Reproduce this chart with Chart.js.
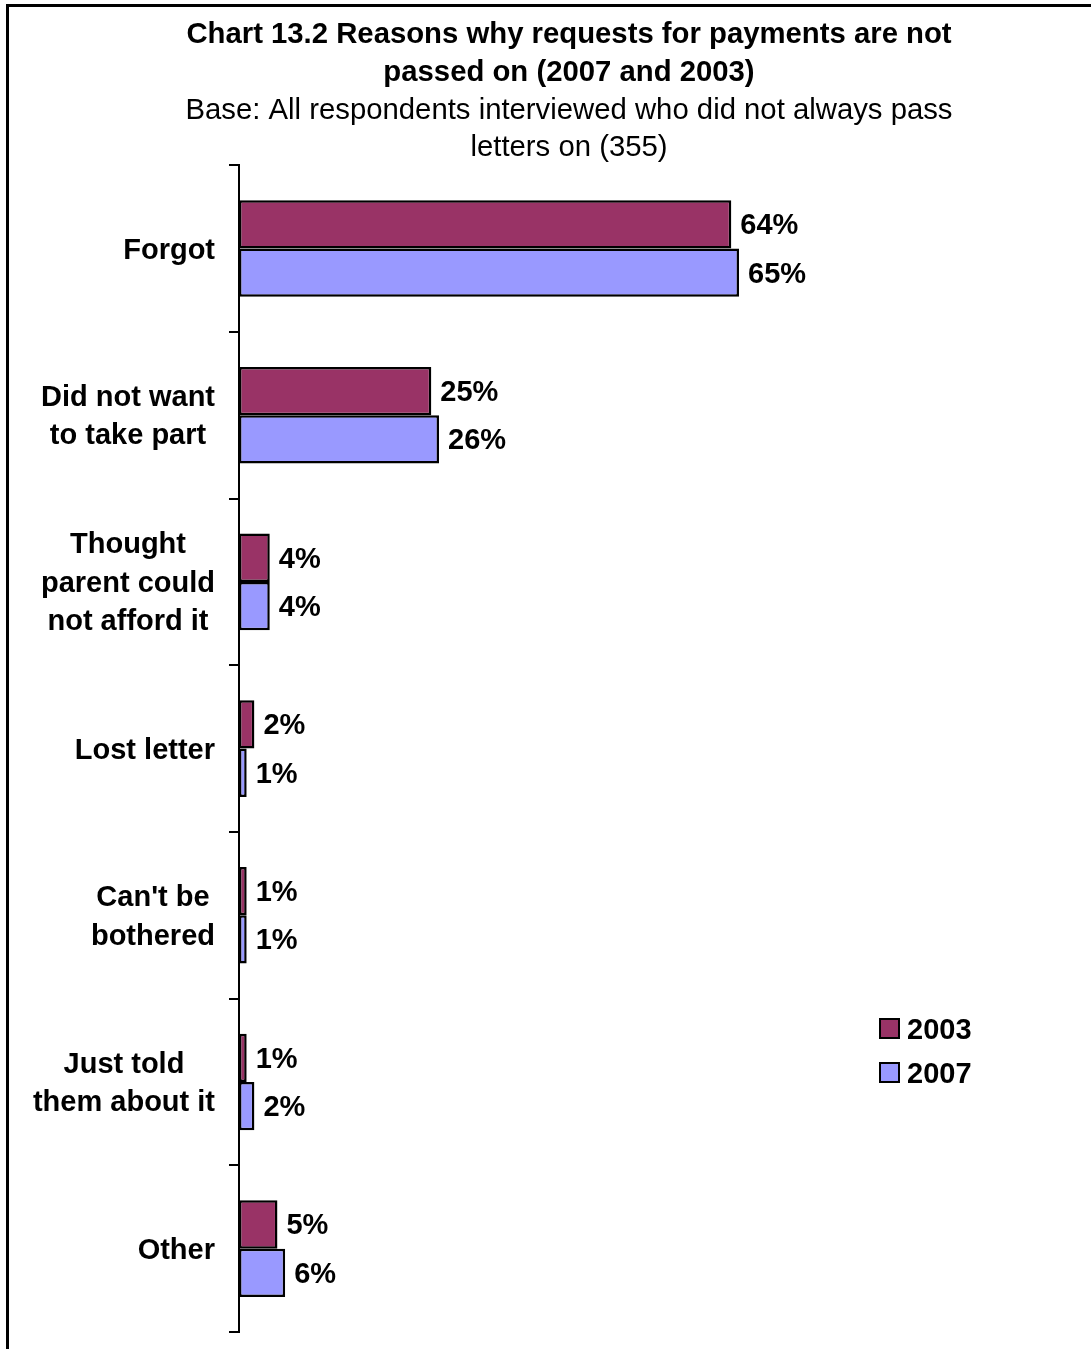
<!DOCTYPE html>
<html>
<head>
<meta charset="utf-8">
<script src="https://cdn.jsdelivr.net/npm/chart.js@4.4.0/dist/chart.umd.min.js"></script>
<style>
  html, body { margin: 0; padding: 0; background: #fff; overflow: hidden; }
  #frame {
    position: absolute; left: 6px; top: 4px;
    width: 1120px; height: 1360px;
    border: 3px solid #000; background: #fff;
  }
  canvas { display: block; }
</style>
</head>
<body>
<div id="frame"><canvas id="chart" width="1120" height="1360"></canvas></div>
<script>
// Chart data
const categories = [
  ['Forgot'],
  ['Did not want', 'to take part'],
  ['Thought', 'parent could', 'not afford it'],
  ['Lost letter'],
  ["Can't be", 'bothered'],
  ['Just told', 'them about it'],
  ['Other']
];
const values2003 = [64, 25, 4, 2, 1, 1, 5];
const values2007 = [65, 26, 4, 1, 1, 2, 6];
const seriesNames = ['2003', '2007'];
const seriesColors = ['#993366', '#9999FF'];

const FONT = '"Liberation Sans", Arial, sans-serif';

// Category labels: block right-aligned, lines centred within the block
const categoryLabels = {
  id: 'categoryLabels',
  afterDraw(chart) {
    const ctx = chart.ctx;
    const yScale = chart.scales.y;
    const rightEdge = 206;
    const lineH = 38.5;
    ctx.save();
    ctx.font = 'bold 29px ' + FONT;
    ctx.fillStyle = '#000';
    ctx.textAlign = 'center';
    ctx.textBaseline = 'middle';
    chart.data.labels.forEach((lines, i) => {
      const y = yScale.getPixelForValue(i) + 2;
      const maxW = Math.max(...lines.map(l => ctx.measureText(l).width));
      const cx = rightEdge - maxW / 2;
      lines.forEach((line, j) => {
        ctx.fillText(line, cx, y + (j - (lines.length - 1) / 2) * lineH);
      });
    });
    ctx.restore();
  }
};

// Percent labels at the end of each bar
const valueLabels = {
  id: 'valueLabels',
  afterDatasetsDraw(chart) {
    const ctx = chart.ctx;
    ctx.save();
    ctx.font = 'bold 29px ' + FONT;
    ctx.fillStyle = '#000';
    ctx.textAlign = 'left';
    ctx.textBaseline = 'middle';
    chart.data.datasets.forEach((ds, di) => {
      chart.getDatasetMeta(di).data.forEach((bar, i) => {
        ctx.fillText(ds.data[i] + '%', bar.x + 9, bar.y + 2);
      });
    });
    ctx.restore();
  }
};

// Legend placed inside the plot, lower right
const sideLegend = {
  id: 'sideLegend',
  afterDraw(chart) {
    const ctx = chart.ctx;
    const x = 871, y0 = 1012, step = 44, box = 19;
    ctx.save();
    ctx.font = 'bold 29px ' + FONT;
    ctx.textAlign = 'left';
    ctx.textBaseline = 'middle';
    chart.data.datasets.forEach((ds, i) => {
      const y = y0 + i * step;
      ctx.fillStyle = ds.backgroundColor;
      ctx.fillRect(x, y, box, box);
      ctx.lineWidth = 2;
      ctx.strokeStyle = '#000';
      ctx.strokeRect(x, y, box, box);
      ctx.fillStyle = '#000';
      ctx.fillText(ds.label, x + 27, y + box / 2 + 2);
    });
    ctx.restore();
  }
};

new Chart(document.getElementById('chart'), {
  type: 'bar',
  data: {
    labels: categories,
    datasets: [
      {
        label: seriesNames[0],
        data: values2003,
        backgroundColor: seriesColors[0],
        borderColor: '#000',
        borderWidth: 2.5,
        borderSkipped: false
      },
      {
        label: seriesNames[1],
        data: values2007,
        backgroundColor: seriesColors[1],
        borderColor: '#000',
        borderWidth: 2.5,
        borderSkipped: false
      }
    ]
  },
  options: {
    indexAxis: 'y',
    responsive: false,
    animation: false,
    datasets: {
      bar: { barPercentage: 1, categoryPercentage: 0.58 }
    },
    layout: { padding: { left: 0, right: 0, top: 0, bottom: 35 } },
    plugins: {
      legend: { display: false },
      tooltip: { enabled: false },
      title: {
        display: true,
        text: ['Chart 13.2 Reasons why requests for payments are not', 'passed on (2007 and 2003)'],
        color: '#000',
        font: { family: FONT, size: 29.3, weight: 'bold', lineHeight: 1.29 },
        padding: { top: 9, bottom: 0 }
      },
      subtitle: {
        display: true,
        text: ['Base: All respondents interviewed who did not always pass', 'letters on (355)'],
        color: '#000',
        font: { family: FONT, size: 29.3, weight: 'normal', lineHeight: 1.29 },
        padding: { top: 0, bottom: -2 }
      }
    },
    scales: {
      x: {
        display: false,
        min: 0,
        max: 115.7
      },
      y: {
        grid: {
          offset: true,
          drawOnChartArea: false,
          drawTicks: true,
          tickLength: 10,
          color: '#000',
          lineWidth: 2
        },
        border: { display: true, color: '#000', width: 2 },
        ticks: { display: false },
        afterFit(scale) { scale.width = 230; }
      }
    }
  },
  plugins: [categoryLabels, valueLabels, sideLegend]
});
</script>
</body>
</html>
